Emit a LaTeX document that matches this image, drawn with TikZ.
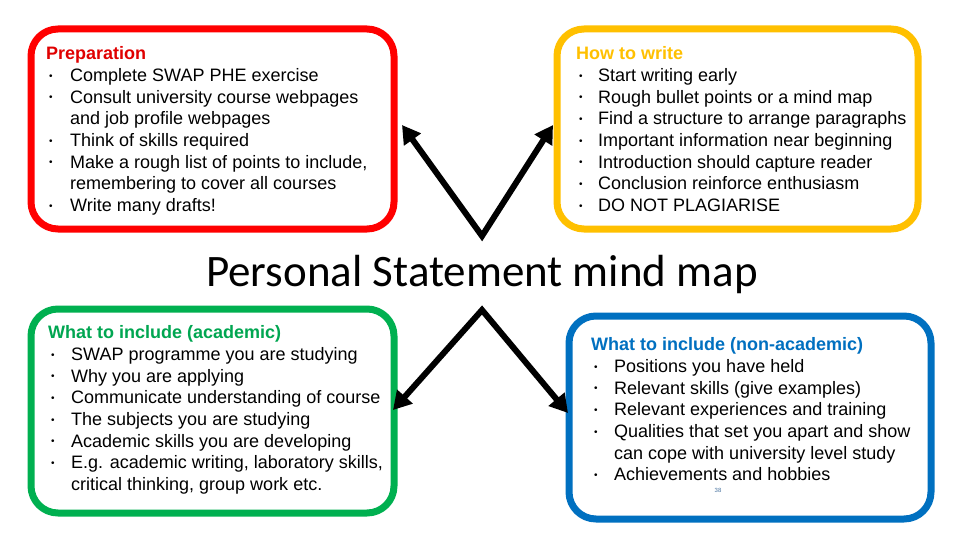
\documentclass[tikz,border=0pt]{standalone}
\usepackage{fontspec}
\setmainfont{Liberation Sans}
\newfontfamily\titlefont{Carlito}
\usetikzlibrary{arrows.meta}
\definecolor{cred}{HTML}{FF0000}
\definecolor{hred}{HTML}{E00000}
\definecolor{cyel}{HTML}{FFC000}
\definecolor{cgrn}{HTML}{00B050}
\definecolor{hgrn}{HTML}{00A651}
\definecolor{cblu}{HTML}{0070C0}
\definecolor{pgnum}{HTML}{4A74A0}
\newcommand{\bul}{\hspace{3pt}{\fontsize{10}{10}\selectfont\raisebox{2.3pt}{•}}}
\tikzset{
  mapbox/.style={draw, line width=7pt, rounded corners=27pt, inner sep=0pt, fill=white},
  listtext/.style={anchor=north west, inner sep=0pt, font=\fontsize{18}{21.7}\selectfont},
  arr/.style={line width=6pt, {Triangle[length=18pt,width=20pt]}-{Triangle[length=18pt,width=20pt]}}
}
\begin{document}
\begin{tikzpicture}[x=1pt,y=-1pt]
\useasboundingbox (0,0) rectangle (960,540);
% boxes
\node[mapbox, draw=cred, minimum width=363pt, minimum height=200pt] (prep) at (212.5,129) {};
\node[mapbox, draw=cyel, minimum width=361pt, minimum height=200pt] (how) at (737.5,129) {};
\node[mapbox, draw=cgrn, minimum width=363pt, minimum height=204pt] (acad) at (212.5,411) {};
\node[mapbox, draw=cblu, minimum width=362pt, minimum height=203pt] (nonacad) at (750,417.5) {};
% texts
\node[listtext] (preptext) at (46,44.3) {%
\begin{tabular}{@{}p{24pt}@{}l@{}}
\multicolumn{2}{@{}l@{}}{\textcolor{hred}{\textbf{Preparation}}}\\
\bul & Complete SWAP PHE exercise\\
\bul & Consult university course webpages\\
 & and job profile webpages\\
\bul & Think of skills required\\
\bul & Make a rough list of points to include,\\
 & remembering to cover all courses\\
\bul & Write many drafts!
\end{tabular}};
\node[listtext] (howtext) at (576,44.3) {%
\begin{tabular}{@{}p{22pt}@{}l@{}}
\multicolumn{2}{@{}l@{}}{\textcolor{cyel}{\textbf{How to write}}}\\
\bul & Start writing early\\
\bul & Rough bullet points or a mind map\\
\bul & Find a structure to arrange paragraphs\\
\bul & Important information near beginning\\
\bul & Introduction should capture reader\\
\bul & Conclusion reinforce enthusiasm\\
\bul & DO NOT PLAGIARISE
\end{tabular}};
\node[listtext] (acadtext) at (48,323.3) {%
\begin{tabular}{@{}p{23pt}@{}l@{}}
\multicolumn{2}{@{}l@{}}{\textcolor{hgrn}{\textbf{What to include (academic)}}}\\
\bul & SWAP programme you are studying\\
\bul & Why you are applying\\
\bul & Communicate understanding of course\\
\bul & The subjects you are studying\\
\bul & Academic skills you are developing\\
\bul & E.g. academic writing, laboratory skills,\\
 & critical thinking, group work etc.
\end{tabular}};
\node[listtext] (nonacadtext) at (591,335.3) {%
\begin{tabular}{@{}p{23pt}@{}l@{}}
\multicolumn{2}{@{}l@{}}{\textcolor{cblu}{\textbf{What to include (non-academic)}}}\\
\bul & Positions you have held\\
\bul & Relevant skills (give examples)\\
\bul & Relevant experiences and training\\
\bul & Qualities that set you apart and show\\
 & can cope with university level study\\
\bul & Achievements and hobbies
\end{tabular}};
\node[font=\fontsize{6}{7}\selectfont, text=pgnum, inner sep=0pt] (pagenum) at (718,490) {38};
% title
\node[font=\titlefont\fontsize{45}{54}\selectfont, inner sep=0pt] (title) at (482,275) {Personal Statement mind map};
% arrows
\coordinate (topapex) at (482,236);
\coordinate (tipprep) at (402,125);
\coordinate (tiphow) at (553,125);
\coordinate (botapex) at (482,310);
\coordinate (tipacad) at (393,410);
\coordinate (tipnon) at (568,413);
\draw[arr] (tipprep) -- (topapex) -- (tiphow);
\draw[arr] (tipacad) -- (botapex) -- (tipnon);
\end{tikzpicture}
\end{document}
